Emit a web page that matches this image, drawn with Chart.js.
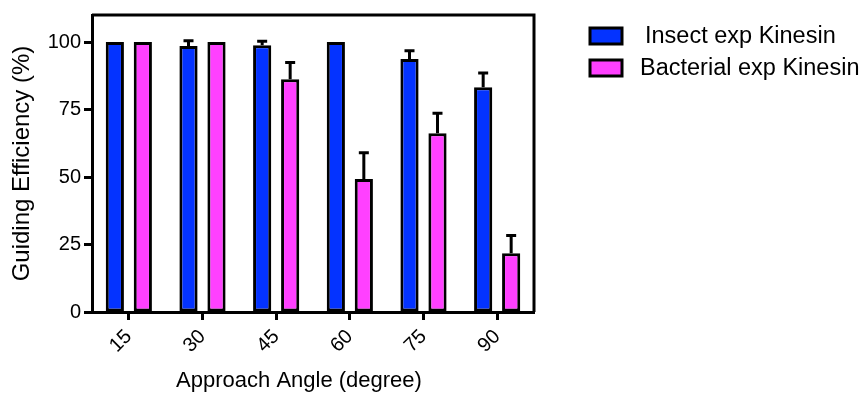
<!DOCTYPE html>
<html>
<head>
<meta charset="utf-8">
<script src="https://cdn.jsdelivr.net/npm/chart.js@4/dist/chart.umd.min.js"></script>
<style>
  html, body { margin: 0; padding: 0; background: #fff; overflow: hidden; }
  #wrap { width: 867px; height: 394px; }
</style>
</head>
<body>
<div id="wrap"><canvas id="guiding-chart" width="867" height="394"></canvas></div>
<script>
// Guiding efficiency vs approach angle, two kinesin preparations (mean + SD)
const angles       = ['15', '30', '45', '60', '75', '90'];
const insectMean   = [100, 98.5, 98.8, 100, 93.7, 83.2];
const insectSD     = [0, 2.0, 1.5, 0, 3.1, 5.3];
const bacterMean   = [100, 100, 86.2, 49.3, 66.2, 21.8];
const bacterSD     = [0, 0, 6.2, 9.7, 7.4, 6.5];
const yTicks       = [0, 25, 50, 75, 100];
const xTitle       = 'Approach Angle (degree)';

const FONT = "'Liberation Sans', Arial, sans-serif";
const BLUE = '#0433ff';
const PINK = '#ff40ff';

// upward-only error bars drawn through the y scale
const errorBars = {
  id: 'errorBars',
  afterDatasetsDraw(chart) {
    const { ctx, scales: { y } } = chart;
    ctx.save();
    ctx.strokeStyle = '#000';
    ctx.lineWidth = 3;
    chart.data.datasets.forEach((ds, i) => {
      const meta = chart.getDatasetMeta(i);
      meta.data.forEach((bar, j) => {
        const sd = ds.errors[j];
        if (!sd) return;
        const top = y.getPixelForValue(ds.data[j] + sd);
        ctx.beginPath();
        ctx.moveTo(bar.x, bar.y);
        ctx.lineTo(bar.x, top);
        ctx.moveTo(bar.x - 5, top);
        ctx.lineTo(bar.x + 5, top);
        ctx.stroke();
      });
    });
    ctx.restore();
  }
};

// closes the plot box (top + right edges), x title, and legend on the right
const frameAndLegend = {
  id: 'frameAndLegend',
  afterDraw(chart) {
    const { ctx, chartArea: a } = chart;
    ctx.save();
    ctx.strokeStyle = '#000';
    ctx.lineWidth = 3;
    ctx.beginPath();
    ctx.moveTo(a.left, a.top);
    ctx.lineTo(a.right, a.top);
    ctx.lineTo(a.right, a.bottom);
    ctx.stroke();

    // axis title sits a little left of the plot centre
    ctx.fillStyle = '#000';
    ctx.font = '22px ' + FONT;
    ctx.textAlign = 'center';
    ctx.textBaseline = 'middle';
    ctx.fillText(xTitle, (a.left + a.right) / 2 - 14, 381);

    const rows = [
      { y: 36, textX: 645 },
      { y: 68, textX: 640 },
    ];
    ctx.font = '23.5px ' + FONT;
    ctx.textAlign = 'left';
    chart.data.datasets.forEach((ds, i) => {
      const r = rows[i];
      ctx.fillStyle = ds.backgroundColor;
      ctx.fillRect(590, r.y - 8, 32, 16);
      ctx.strokeRect(590, r.y - 8, 32, 16);
      ctx.fillStyle = '#000';
      ctx.fillText(ds.label, r.textX, r.y + 1);
    });
    ctx.restore();
  }
};

new Chart(document.getElementById('guiding-chart'), {
  type: 'bar',
  data: {
    labels: angles,
    datasets: [
      {
        label: 'Insect exp Kinesin',
        data: insectMean,
        errors: insectSD,
        backgroundColor: BLUE,
        borderColor: '#000',
        borderWidth: 3,
        borderSkipped: false,
      },
      {
        label: 'Bacterial exp Kinesin',
        data: bacterMean,
        errors: bacterSD,
        backgroundColor: PINK,
        borderColor: '#000',
        borderWidth: 3,
        borderSkipped: false,
      },
    ],
  },
  options: {
    responsive: false,
    animation: false,
    events: [],
    layout: { padding: { top: 15, right: 333, left: 0, bottom: 0 } },
    datasets: {
      bar: { categoryPercentage: 0.76, barPercentage: 0.65 },
    },
    plugins: {
      legend: { display: false },
      tooltip: { enabled: false },
    },
    scales: {
      x: {
        afterFit: (s) => { s.height = 82; },
        grid: {
          offset: false,
          drawOnChartArea: false,
          tickLength: 8,
          tickWidth: 3,
          tickColor: '#000',
        },
        border: { color: '#000', width: 3 },
        ticks: {
          color: '#000',
          font: { family: FONT, size: 20 },
          minRotation: 45,
          maxRotation: 45,
          padding: 5,
        },
      },
      y: {
        min: 0,
        max: 110,
        afterFit: (s) => { s.width = 92; },
        afterBuildTicks: (s) => { s.ticks = yTicks.map(v => ({ value: v })); },
        grid: {
          drawOnChartArea: false,
          tickLength: 8,
          tickWidth: 3,
          tickColor: '#000',
        },
        border: { color: '#000', width: 3 },
        ticks: {
          color: '#000',
          font: { family: FONT, size: 20 },
          padding: 3,
        },
        title: {
          display: true,
          text: 'Guiding Efficiency (%)',
          color: '#000',
          font: { family: FONT, size: 24 },
          padding: { top: 8, bottom: 0 },
        },
      },
    },
  },
  plugins: [errorBars, frameAndLegend],
});
</script>
</body>
</html>
